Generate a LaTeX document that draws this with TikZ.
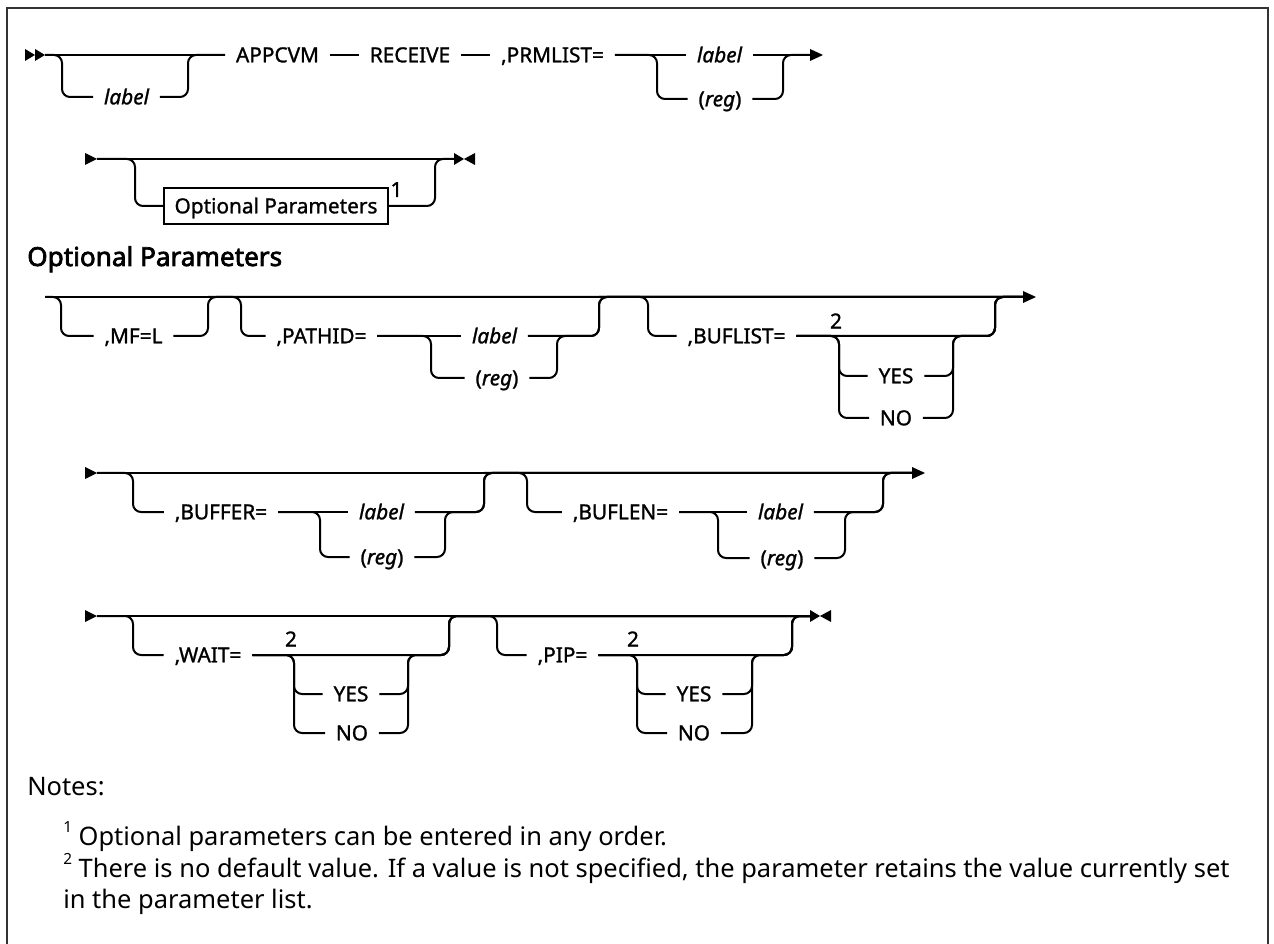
\documentclass[tikz,border=0pt]{standalone}
\usepackage{fontspec}
\setmainfont{Noto Sans}
\newfontfamily\dgff{Noto Sans}[FakeBold=1.2]
\newfontfamily\headff{Noto Sans}[FakeBold=2.6]
\newcommand\dgfont{\dgff\fontsize{15.6pt}{18pt}\selectfont}
\newcommand\notefont{\fontsize{19.1pt}{23pt}\selectfont}
\newcommand\headfont{\headff\fontsize{19.6pt}{23pt}\selectfont}
\newcommand\supnum[1]{\raisebox{0.5em}{\fontsize{11.5pt}{12pt}\selectfont #1}}
\begin{document}
\begin{tikzpicture}[x=0.75pt,y=-0.75pt,
  rail/.style={line width=1.5pt, rounded corners=6pt},
  txt/.style={font=\dgfont, inner xsep=8pt, inner ysep=0pt, text height=11pt, text depth=0pt},
  optbox/.style={txt, draw, line width=1.3pt, minimum width=166.5pt, minimum height=27pt},
  num/.style={font=\dgfont, inner sep=0pt},
  note/.style={font=\notefont, anchor=base west, inner sep=0pt},
  tip/.style={fill=black}]
\useasboundingbox (0,0) rectangle (1274,944);
% frame
\draw[line width=1.6pt, draw=black!80] (7,960) -- (7,8) -- (1268,8) -- (1268,960);

% ---------------- Row 1
\coordinate (s1) at (45,55);
\coordinate (b1l) at (62,55);
\coordinate (b1r) at (188,55);
\node[txt] (lab1) at (126.5,97) {\itshape label};
\node[txt] (appcvm) at (277.5,55) {APPCVM};
\node[txt] (receive) at (410,55) {RECEIVE};
\node[txt] (prm) at (552.5,55) {,PRMLIST=};
\coordinate (b2l) at (657,55);
\coordinate (b2r) at (783,55);
\node[txt] (prmlab) at (719.5,55) {\itshape label};
\node[txt] (prmreg) at (720,99) {(\textit{reg})};
\coordinate (e1) at (810,55);
\draw[rail] (s1) -- (appcvm.west);
\draw[rail] (s1) -- (b1l) |- (lab1.west);
\draw[rail] (lab1.east) -| (b1r) -- (appcvm.west);
\draw[rail] (appcvm.east) -- (receive.west);
\draw[rail] (receive.east) -- (prm.west);
\draw[rail] (prm.east) -- (prmlab.west);
\draw[rail] (prm.east) -- (b2l) |- (prmreg.west);
\draw[rail] (prmlab.east) -- (e1);
\draw[rail] (prmreg.east) -| (b2r) -- (e1);
\fill[tip] (s1) ++(-20,-6) -- ++(10,6) -- ++(-10,6) -- cycle;
\fill[tip] (s1) ++(-10,-6) -- ++(10,6) -- ++(-10,6) -- cycle;
\fill[tip] (e1) ++(0,-6) -- ++(13,6) -- ++(-13,6) -- cycle;

% ---------------- Row 2
\coordinate (s2) at (97,159);
\coordinate (b3l) at (135,159);
\coordinate (b3r) at (435,159);
\coordinate (e2) at (454,159);
\node[optbox] (obox) at (276,206) {Optional Parameters};
\node[num, anchor=base] (fn1) at (396.5,197) {1};
\draw[rail] (s2) -- (e2);
\draw[rail] (s2) -- (b3l) |- (obox.west);
\draw[rail] (obox.east) -| (b3r) -- (e2);
\fill[tip] (s2) ++(-12,-6) -- ++(12,6) -- ++(-12,6) -- cycle;
\fill[tip] (e2) ++(0,-6) -- ++(10,6) -- ++(-10,6) -- cycle;
\fill[tip] (e2) ++(21,-6) -- ++(-11,6) -- ++(11,6) -- cycle;

% heading
\node[anchor=base west, inner sep=0pt, font=\headfont] (head) at (27,266) {Optional Parameters};

% ---------------- Row 3
\coordinate (s3) at (45,297);
\coordinate (e3) at (1023,297);
\draw[rail] (s3) -- (e3);
% MF=L
\coordinate (m1l) at (61,297);
\coordinate (m1r) at (208,297);
\node[txt] (mfl) at (133.5,336) {,MF=L};
\draw[rail] (s3) -- (m1l) |- (mfl.west);
\draw[rail] (mfl.east) -| (m1r) -- (e3);
% PATHID
\coordinate (p1l) at (241,297);
\coordinate (p1r) at (599,297);
\coordinate (p2l) at (431,336);
\coordinate (p2r) at (557,336);
\node[txt] (pathid) at (321.5,336) {,PATHID=};
\node[txt] (plab) at (494.5,336) {\itshape label};
\node[txt] (preg) at (497,378) {(\textit{reg})};
\draw[rail] (m1r) -- (p1l) |- (pathid.west);
\draw[rail] (pathid.east) -- (plab.west);
\draw[rail] (pathid.east) -- (p2l) |- (preg.west);
\draw[rail] (plab.east) -| (p1r) -- (e3);
\draw[rail] (preg.east) -| (p2r) -| (p1r) -- (e3);
% BUFLIST
\coordinate (q1l) at (648,297);
\coordinate (q1r) at (995,297);
\coordinate (q2l) at (839,336);
\coordinate (q2r) at (953,336);
\node[txt] (buflist) at (736.5,336) {,BUFLIST=};
\node[num] (qn2) at (836,321) {2};
\node[txt] (qyes) at (896,376) {YES};
\node[txt] (qno) at (896,418) {NO};
\draw[rail] (p1r) -- (q1l) |- (buflist.west);
\draw[rail] (buflist.east) -| (q1r) -- (e3);
\draw[rail] (buflist.east) -- (q2l) |- (qyes.west);
\draw[rail] (buflist.east) -- (q2l) |- (qno.west);
\draw[rail] (qyes.east) -| (q2r) -| (q1r) -- (e3);
\draw[rail] (qno.east) -| (q2r) -| (q1r) -- (e3);
\fill[tip] (e3) ++(0,-6) -- ++(13,6) -- ++(-13,6) -- cycle;

% ---------------- Row 4
\coordinate (s4) at (97,473);
\coordinate (e4) at (912,473);
\draw[rail] (s4) -- (e4);
% BUFFER
\coordinate (f1l) at (133,473);
\coordinate (f1r) at (484,473);
\coordinate (f2l) at (320,512);
\coordinate (f2r) at (445,512);
\node[txt] (buffer) at (221,512) {,BUFFER=};
\node[txt] (flab) at (381.5,512) {\itshape label};
\node[txt] (freg) at (382,557) {(\textit{reg})};
\draw[rail] (s4) -- (f1l) |- (buffer.west);
\draw[rail] (buffer.east) -- (flab.west);
\draw[rail] (buffer.east) -- (f2l) |- (freg.west);
\draw[rail] (flab.east) -| (f1r) -- (e4);
\draw[rail] (freg.east) -| (f2r) -| (f1r) -- (e4);
% BUFLEN
\coordinate (g1l) at (527,473);
\coordinate (g1r) at (883,473);
\coordinate (g2l) at (718,512);
\coordinate (g2r) at (845,512);
\node[txt] (buflen) at (620.5,512) {,BUFLEN=};
\node[txt] (glab) at (780.5,512) {\itshape label};
\node[txt] (greg) at (782,558) {(\textit{reg})};
\draw[rail] (f1r) -- (g1l) |- (buflen.west);
\draw[rail] (buflen.east) -- (glab.west);
\draw[rail] (buflen.east) -- (g2l) |- (greg.west);
\draw[rail] (glab.east) -| (g1r) -- (e4);
\draw[rail] (greg.east) -| (g2r) -| (g1r) -- (e4);
\fill[tip] (s4) ++(-12,-6) -- ++(12,6) -- ++(-12,6) -- cycle;
\fill[tip] (e4) ++(0,-6) -- ++(13,6) -- ++(-13,6) -- cycle;

% ---------------- Row 5
\coordinate (s5) at (97,616);
\coordinate (e5) at (810,616);
\draw[rail] (s5) -- (e5);
% WAIT
\coordinate (w1l) at (133,616);
\coordinate (w1r) at (449,616);
\coordinate (w2l) at (294,655);
\coordinate (w2r) at (408,655);
\node[txt] (wait) at (208,655) {,WAIT=};
\node[num] (wn2) at (291,639) {2};
\node[txt] (wyes) at (351,694) {YES};
\node[txt] (wno) at (352,733) {NO};
\draw[rail] (s5) -- (w1l) |- (wait.west);
\draw[rail] (wait.east) -| (w1r) -- (e5);
\draw[rail] (wait.east) -- (w2l) |- (wyes.west);
\draw[rail] (wait.east) -- (w2l) |- (wno.west);
\draw[rail] (wyes.east) -| (w2r) -| (w1r) -- (e5);
\draw[rail] (wno.east) -| (w2r) -| (w1r) -- (e5);
% PIP
\coordinate (v1l) at (497,616);
\coordinate (v1r) at (792,616);
\coordinate (v2l) at (637,655);
\coordinate (v2r) at (752,655);
\node[txt] (pip) at (562.5,655) {,PIP=};
\node[num] (vn2) at (633,639) {2};
\node[txt] (vyes) at (694,694) {YES};
\node[txt] (vno) at (694,733) {NO};
\draw[rail] (w1r) -- (v1l) |- (pip.west);
\draw[rail] (pip.east) -| (v1r) -- (e5);
\draw[rail] (pip.east) -- (v2l) |- (vyes.west);
\draw[rail] (pip.east) -- (v2l) |- (vno.west);
\draw[rail] (vyes.east) -| (v2r) -| (v1r) -- (e5);
\draw[rail] (vno.east) -| (v2r) -| (v1r) -- (e5);
\fill[tip] (s5) ++(-12,-6) -- ++(12,6) -- ++(-12,6) -- cycle;
\fill[tip] (e5) ++(0,-6) -- ++(10,6) -- ++(-10,6) -- cycle;
\fill[tip] (e5) ++(21,-6) -- ++(-11,6) -- ++(11,6) -- cycle;

% ---------------- Notes
\node[note] (notes) at (27,795) {Notes:};
\node[note] (n1) at (63,845) {\supnum{1} Optional parameters can be entered in any order.};
\node[note] (n2) at (63,877) {\supnum{2} There is no default value. If a value is not specified, the parameter retains the value currently set};
\node[note] (n3) at (63,908) {in the parameter list.};
\end{tikzpicture}
\end{document}
